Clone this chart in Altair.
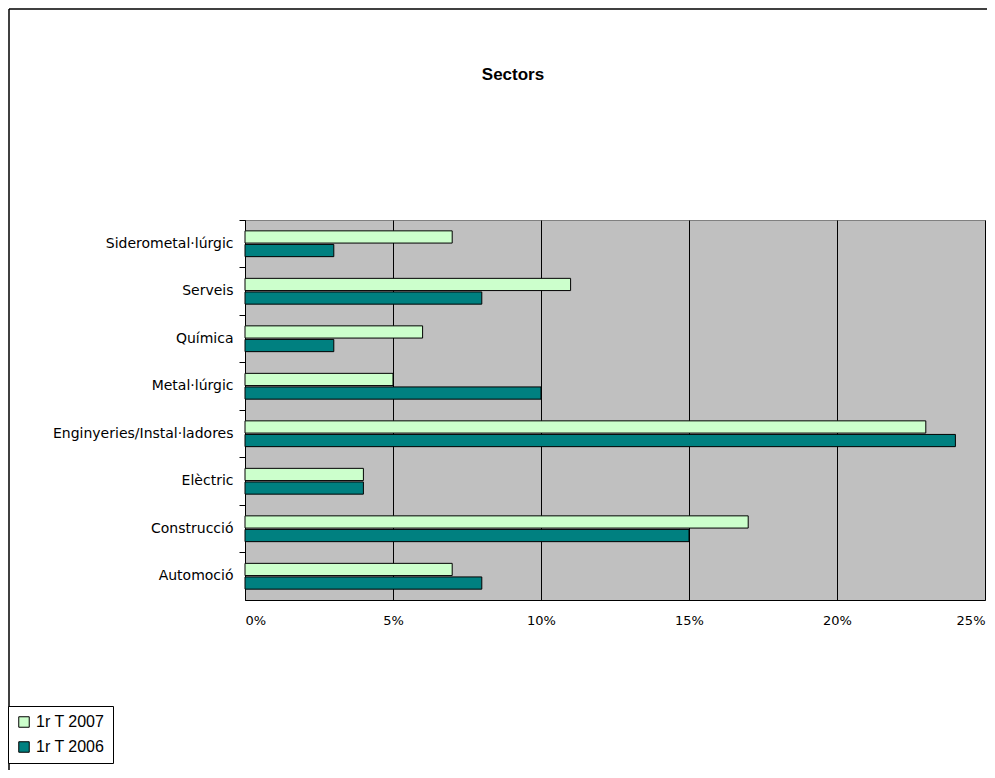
import altair as alt
import pandas as pd

sectors = ["Siderometal·lúrgic", "Serveis", "Química", "Metal·lúrgic",
           "Enginyeries/Instal·ladores", "Elèctric", "Construcció", "Automoció"]
series = ["1r T 2007", "1r T 2006"]
vals_2007 = [7, 11, 6, 5, 23, 4, 17, 7]
vals_2006 = [3, 8, 3, 10, 24, 4, 15, 8]
x_ticks = [0, 5, 10, 15, 20, 25]

rows = []
for s, a, b in zip(sectors, vals_2007, vals_2006):
    rows.append({"sector": s, "serie": series[0], "value": a / 100})
    rows.append({"sector": s, "serie": series[1], "value": b / 100})
df = pd.DataFrame(rows)

FONT = "DejaVu Sans"

bars = alt.Chart(df).mark_bar(stroke="black", strokeWidth=1).encode(
    y=alt.Y("sector:N", sort=sectors, title=None,
            scale=alt.Scale(paddingInner=0, paddingOuter=0),
            axis=alt.Axis(labelFontSize=14, labelFont=FONT, labelColor="black",
                          tickColor="black", domainColor="black", tickSize=6,
                          bandPosition=0, labelPadding=6, grid=False,
                          labelLimit=400)),
    yOffset=alt.YOffset("serie:N", sort=series,
                        scale=alt.Scale(paddingOuter=0.8, paddingInner=0.1)),
    x=alt.X("value:Q", title=None,
            scale=alt.Scale(domain=[0, 0.25], nice=False),
            axis=alt.Axis(format=".0%", values=[t / 100 for t in x_ticks],
                          labelFontSize=13, labelFont=FONT, labelColor="black",
                          grid=True, gridColor="black", gridOpacity=1,
                          domainColor="black", tickColor="black", tickSize=0,
                          labelPadding=14)),
    color=alt.Color("serie:N", sort=series,
                    scale=alt.Scale(domain=series, range=["#CCFFCC", "#008080"]),
                    legend=alt.Legend(title=None, orient="none",
                                      legendX=-237, legendY=486,
                                      symbolType="square", symbolSize=110,
                                      symbolStrokeColor="black", symbolStrokeWidth=1,
                                      labelFontSize=16, labelFont="Liberation Sans",
                                      labelColor="black", fillColor="white",
                                      strokeColor="black", padding=8,
                                      rowPadding=9, symbolOffset=0)),
)

one = pd.DataFrame({"a": [0]})
left_border = alt.Chart(one).mark_rule(color="black", strokeWidth=1.5).encode(
    x=alt.value(-236), y=alt.value(-211), y2=alt.value(600)
)
top_border = alt.Chart(one).mark_rule(color="black", strokeWidth=1.5).encode(
    x=alt.value(-236), x2=alt.value(800), y=alt.value(-211)
)

title = alt.Chart(pd.DataFrame({"t": ["Sectors"]})).mark_text(
    fontSize=17, font="Liberation Sans", fontWeight="bold", color="black",
    align="center", baseline="middle").encode(
    text="t:N", x=alt.value(268), y=alt.value(-145)
)

chart = alt.layer(left_border, top_border, bars, title).properties(
    width=740, height=380,
    autosize=alt.AutoSizeParams(type="none"),
    padding={"left": 237, "top": 212, "right": 2, "bottom": 170},
).configure_view(fill="#C0C0C0", stroke="#808080")

chart.save("out.html", embed_options={"renderer": "svg", "actions": False})
